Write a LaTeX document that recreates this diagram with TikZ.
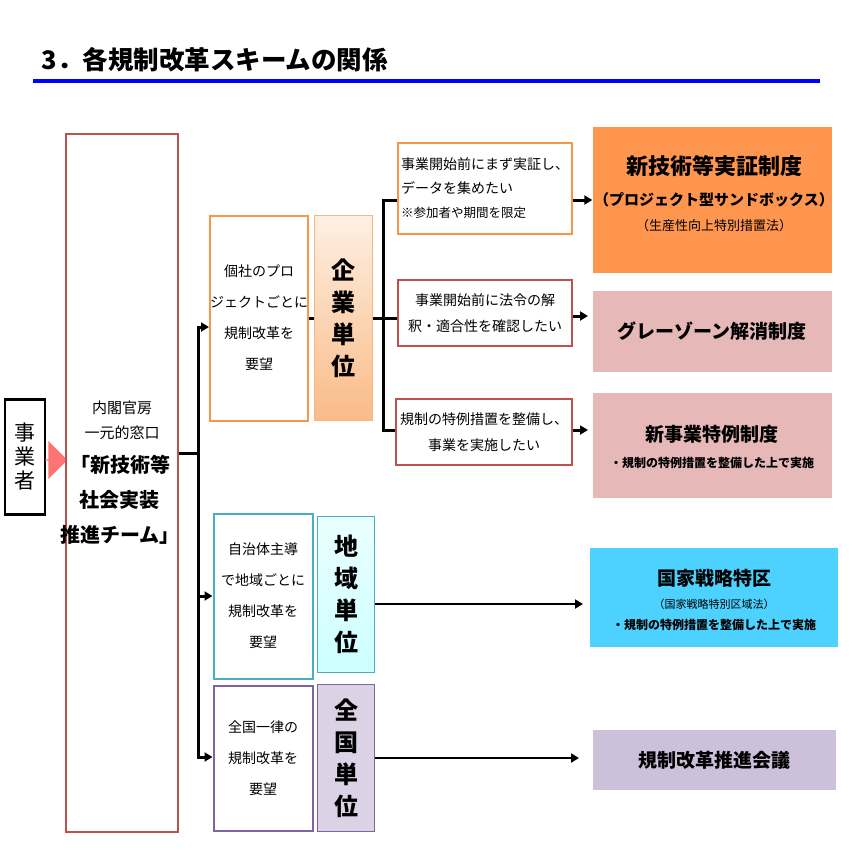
\documentclass[tikz,border=0pt]{standalone}
\usepackage{fontspec}
\setmainfont{Noto Sans CJK JP}
\usetikzlibrary{arrows.meta,shapes.arrows}
\definecolor{ored}{HTML}{C0504D}
\definecolor{oor}{HTML}{F79646}
\definecolor{teal}{HTML}{4BACC6}
\definecolor{purp}{HTML}{8064A2}
\definecolor{tor}{HTML}{FF964F}
\definecolor{tpk}{HTML}{E6B8B7}
\definecolor{tcy}{HTML}{4DD2FF}
\definecolor{tpu}{HTML}{CCC0DA}
\tikzset{x=1pt,y=-1pt,
 bx/.style={draw,line width=2pt,align=center,inner sep=0pt},
 tg/.style={align=center,inner sep=0pt,font=\bfseries},
 ln/.style={line width=3pt},
 ar/.style={line width=3pt,-{Triangle[length=8pt,width=9pt]}},
 txt/.style={font=\fontsize{15}{25}\selectfont,align=center}}
\begin{document}
\begin{tikzpicture}
\useasboundingbox (0,0) rectangle (852,852);
\node[anchor=west,font=\fontsize{25.5}{30}\bfseries\selectfont] (title) at (38,60) {3．各規制改革スキームの関係};
\draw[line width=4pt,blue] (33,81) coordinate (bl1) -- (820,81) coordinate (bl2);
% left
\node[draw,line width=2.5pt,minimum width=40pt,minimum height=115pt,font=\fontsize{21}{24}\selectfont,align=center,inner sep=0pt] (jg) at (25,457) {事\\業\\者};
\node[single arrow,fill=red!55,draw=none,minimum height=22pt,minimum width=38pt,single arrow head extend=5pt,inner sep=0pt] (pa) at (56,460) {};
\node[bx,draw=ored,minimum width=112pt,minimum height=698pt] (big) at (122,483) {};
\node[txt,align=center] (bt1) at (122,420) {内閣官房\\一元的窓口};
\node[font=\fontsize{20}{35}\bfseries\selectfont,align=center] (bt2) at (120,500) {「新技術等\\社会実装\\推進チーム」};
% level 2
\node[bx,draw=oor,minimum width=98pt,minimum height=205pt,font=\fontsize{14}{31}\selectfont] (k1) at (259,318) {個社のプロ\\ジェクトごとに\\規制改革を\\要望};
\node[bx,draw=oor!70,line width=1pt,top color=oor!15,bottom color=oor!65,minimum width=58pt,minimum height=205pt,font=\fontsize{24}{32}\bfseries\selectfont] (k2) at (343,318) {企\\業\\単\\位};
\node[bx,draw=teal,minimum width=99pt,minimum height=165pt,font=\fontsize{14}{31}\selectfont] (c1) at (263,596) {自治体主導\\で地域ごとに\\規制改革を\\要望};
\node[bx,draw=teal,line width=1pt,top color=cyan!8,bottom color=cyan!20,minimum width=57pt,minimum height=156pt,font=\fontsize{24}{32}\bfseries\selectfont] (c2) at (346,594) {地\\域\\単\\位};
\node[bx,draw=purp,minimum width=99pt,minimum height=145pt,font=\fontsize{14}{31}\selectfont] (z1) at (263,758) {全国一律の\\規制改革を\\要望};
\node[bx,draw=purp,line width=1pt,fill=tpu!70,minimum width=57pt,minimum height=147pt,font=\fontsize{24}{32}\bfseries\selectfont] (z2) at (346,758) {全\\国\\単\\位};
% level 3
\node[bx,draw=oor,minimum width=174pt,minimum height=91pt,font=\fontsize{14}{24}\selectfont,align=left] (a1) at (485,188) {事業開始前にまず実証し、\\データを集めたい\\{\fontsize{12.5}{16}\selectfont ※参加者や期間を限定}};
\node[bx,draw=ored,minimum width=174pt,minimum height=66pt,font=\fontsize{14}{26}\selectfont] (a2) at (485,313) {事業開始前に法令の解\\釈・適合性を確認したい};
\node[bx,draw=ored,minimum width=176pt,minimum height=66pt,font=\fontsize{14}{26}\selectfont] (a3) at (484,432) {規制の特例措置を整備し、\\事業を実施したい};
% targets
\node[tg,fill=tor,minimum width=239pt,minimum height=146pt] (t1) at (712,200) {};
\node[font=\fontsize{22}{26}\bfseries\selectfont] (t1a) at (714,166) {新技術等実証制度};
\node[font=\fontsize{15}{18}\bfseries\selectfont] (t1b) at (714,200) {（プロジェクト型サンドボックス）};
\node[font=\fontsize{13}{16}\selectfont] (t1c) at (714,226) {（生産性向上特別措置法）};
\node[tg,fill=tpk,minimum width=239pt,minimum height=81pt,font=\fontsize{19}{24}\bfseries\selectfont] (t2) at (712,331) {グレーゾーン解消制度};
\node[tg,fill=tpk,minimum width=239pt,minimum height=105pt] (t3) at (712,445) {};
\node[font=\fontsize{19}{24}\bfseries\selectfont] (t3a) at (712,434) {新事業特例制度};
\node[font=\fontsize{12}{16}\bfseries\selectfont] (t3b) at (712,463) {・規制の特例措置を整備した上で実施};
\node[tg,fill=tcy,minimum width=248pt,minimum height=99pt] (t4) at (714,597) {};
\node[font=\fontsize{19}{24}\bfseries\selectfont] (t4a) at (714,578) {国家戦略特区};
\node[font=\fontsize{11}{14}\selectfont] (t4b) at (714,604) {（国家戦略特別区域法）};
\node[font=\fontsize{12}{16}\bfseries\selectfont] (t4c) at (714,625) {・規制の特例措置を整備した上で実施};
\node[tg,fill=tpu,minimum width=243pt,minimum height=60pt,font=\fontsize{19}{24}\bfseries\selectfont] (t5) at (714,760) {規制改革推進会議};
% connectors
\coordinate (tr) at (198,453);
\draw[ln] (big.east|-tr) -- (tr);
\draw[ar] (tr) |- (k1.west|-0,327);
\draw[ar] (tr) |- (c1.west|-0,596);
\draw[ar] (tr) |- (z1.west|-0,757);
\draw[ln] (k1.east|-0,318) -- (k2.west|-0,318);
\coordinate (tr2) at (383,318);
\draw[ln] (k2.east|-tr2) -- (tr2);
\draw[ln] (tr2) |- (a1.west|-0,200);
\draw[ln] (tr2) -- (a2.west|-tr2);
\draw[ln] (tr2) |- (a3.west|-0,430);
\draw[ar] (a1.east|-0,200) -- (t1.west|-0,200);
\draw[ar] (a2.east|-0,316) -- (588,316) coordinate (e2);
\draw[ar] (a3.east|-0,430) -- (588,430) coordinate (e3);
\draw[ar,line width=2pt] (c2.east|-0,604) -- (583,604) coordinate (e4);
\draw[ar,line width=2pt] (z2.east|-0,758) -- (579,758) coordinate (e5);
\end{tikzpicture}
\end{document}
